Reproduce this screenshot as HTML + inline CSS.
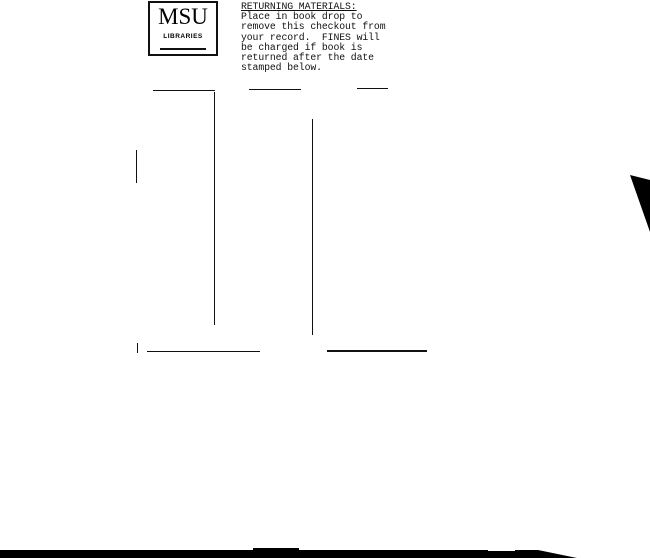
<!DOCTYPE html>
<html><head><style>
body{margin:0;width:650px;height:558px;background:#fff;position:relative;overflow:hidden;font-family:"Liberation Mono",monospace}
.a{position:absolute;background:#111}
.box{position:absolute;left:148px;top:1px;width:70px;height:55px;border:2px solid #111;box-sizing:border-box}
.t{position:absolute;left:241px;top:2px;font-size:9.8px;line-height:10.2px;color:#111;white-space:pre;letter-spacing:-0.1px}
</style></head><body>
<div class="box">
<div style="position:absolute;left:0;width:66px;top:2px;text-align:center;font-family:'Liberation Serif',serif;font-size:23px;line-height:24px">MSU</div>
<div style="position:absolute;left:0;width:66px;top:30px;text-align:center;font-family:'Liberation Sans',sans-serif;font-size:6.5px;font-weight:bold;letter-spacing:0.5px">LIBRARIES</div>
<div class="a" style="left:10px;top:45px;width:46px;height:2px"></div>
</div>
<div class="t"><u>RETURNING MATERIALS:</u>
Place in book drop to
remove this checkout from
your record.  FINES will
be charged if book is
returned after the date
stamped below.</div>
<div class="a" style="left:153px;top:90px;width:62px;height:1px"></div>
<div class="a" style="left:249px;top:89px;width:52px;height:1px"></div>
<div class="a" style="left:357px;top:88px;width:31px;height:1px"></div>
<div class="a" style="left:214px;top:92px;width:1px;height:233px"></div>
<div class="a" style="left:312px;top:119px;width:1px;height:216px"></div>
<div class="a" style="left:136px;top:150px;width:1px;height:33px"></div>
<div class="a" style="left:137px;top:343px;width:1px;height:10px"></div>
<div class="a" style="left:147px;top:351px;width:113px;height:1px"></div>
<div class="a" style="left:327px;top:350px;width:100px;height:2px"></div>
<svg style="position:absolute;left:0;top:0" width="650" height="558">
<polygon points="630,175 650,180 650,232" fill="#000"/>
<polygon points="0,550 253,550 253,548 299,548 299,550 488,550 488,551 515,551 515,550 538,550 577,558 0,558" fill="#000"/>
</svg>
</body></html>
